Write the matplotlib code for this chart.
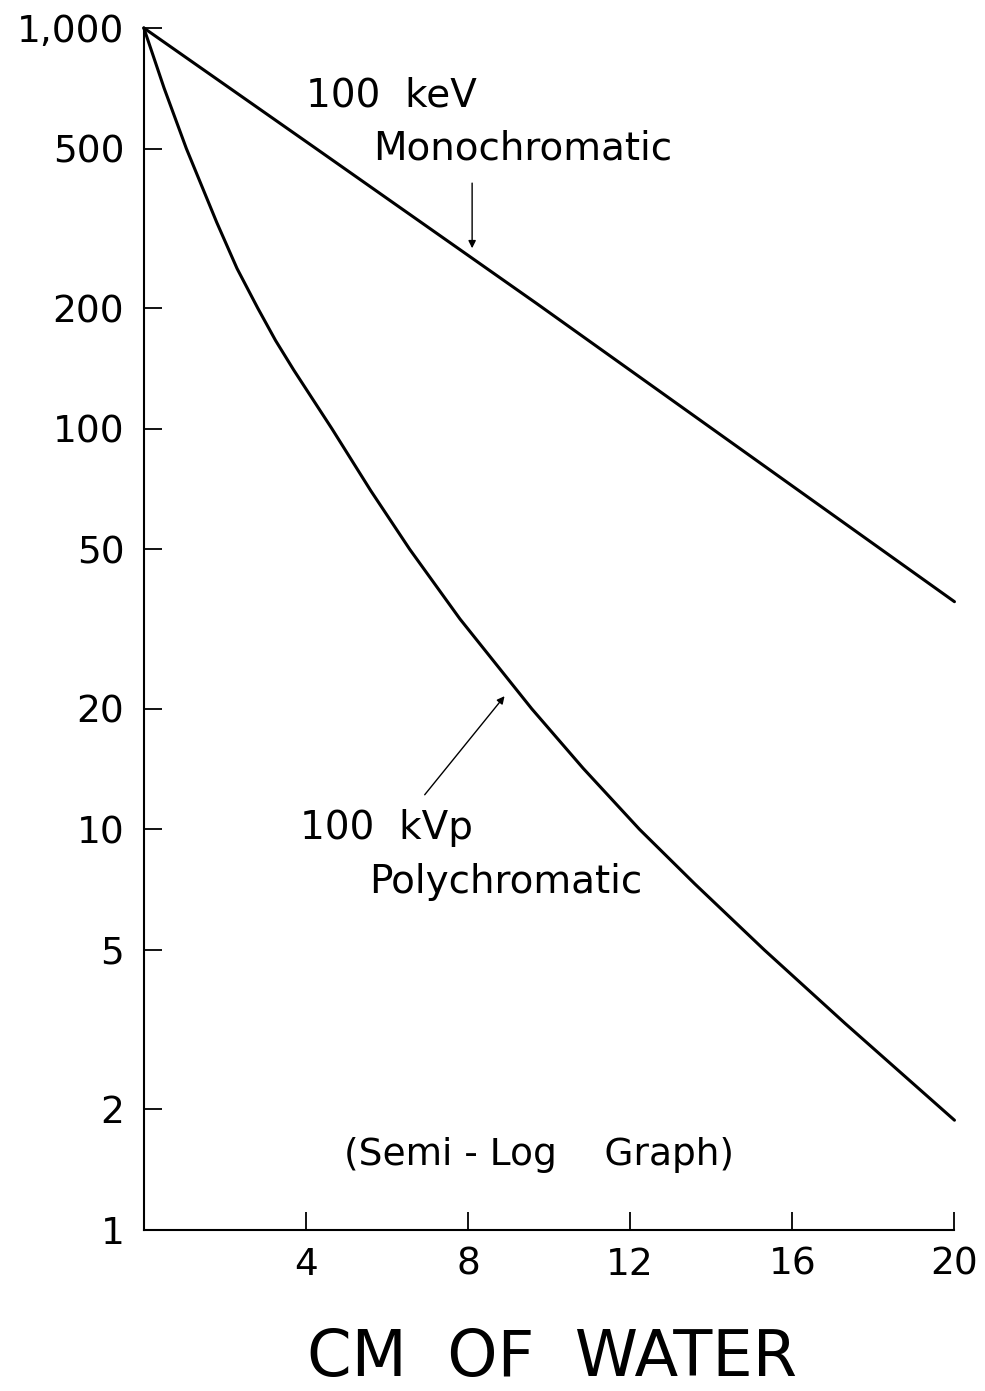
import numpy as np
import matplotlib
matplotlib.use("Agg")
import matplotlib.pyplot as plt
from matplotlib.ticker import FixedLocator, FixedFormatter, NullLocator

# transmitted intensity vs. thickness of water (log scale)
mono_cm = [0, 4.25, 9.7, 20]
mono_int = [1000, 500, 205, 37]

poly_cm = [0, 0.5, 1.05, 1.8, 2.3, 2.81, 3.25, 3.7, 4.64, 5.6, 6.56, 7.8,
           9.57, 10.84, 12.23, 13.6, 15.31, 17.3, 20]
poly_int = [1000, 708, 500, 327, 251, 200, 166, 140, 100, 70, 50, 33.5,
            20, 14.2, 10, 7.3, 5, 3.28, 1.88]

y_ticks = [1, 2, 5, 10, 20, 50, 100, 200, 500, 1000]
y_labels = ["1", "2", "5", "10", "20", "50", "100", "200", "500", "1,000"]
x_ticks = [4, 8, 12, 16, 20]
x_labels = ["4", "8", "12", "16", "20"]

plt.rcParams['font.family'] = ['DejaVu Sans']

fig = plt.figure(figsize=(9.85, 13.91), dpi=100)
ax = fig.add_axes([0.146, 0.1157, 0.823, 0.8642])

ax.set_yscale('log')
ax.set_xlim(0, 20)
ax.set_ylim(1, 1000)

ax.plot(mono_cm, mono_int, color='black', lw=2.2, clip_on=False,
        solid_capstyle='round', solid_joinstyle='round')
ax.plot(poly_cm, poly_int, color='black', lw=2.2, clip_on=False,
        solid_capstyle='round', solid_joinstyle='round')

ax.spines['top'].set_visible(False)
ax.spines['right'].set_visible(False)
ax.spines['left'].set_linewidth(1.5)
ax.spines['bottom'].set_linewidth(1.5)

ax.yaxis.set_major_locator(FixedLocator(y_ticks))
ax.yaxis.set_major_formatter(FixedFormatter(y_labels))
ax.yaxis.set_minor_locator(NullLocator())
ax.set_xticks(x_ticks)
ax.set_xticklabels(x_labels)

ax.tick_params(axis='both', direction='in', length=13, width=1.3,
               labelsize=27, pad=12, colors='black')
ax.tick_params(axis='y', pad=14)

# labels and pointers
ax.text(4.0, 680, "100  keV", fontsize=28, ha='left', va='center')
ax.text(5.65, 500, "Monochromatic", fontsize=28, ha='left', va='center')
ax.annotate("", xy=(8.1, 282), xytext=(8.1, 410),
            arrowprops=dict(arrowstyle='-|>', color='black', lw=1.0,
                            mutation_scale=11, shrinkA=0, shrinkB=0))

ax.text(3.85, 10.1, "100  kVp", fontsize=28, ha='left', va='center')
ax.text(5.55, 7.4, "Polychromatic", fontsize=28, ha='left', va='center')
ax.annotate("", xy=(8.9, 21.5), xytext=(6.93, 12.2),
            arrowprops=dict(arrowstyle='-|>', color='black', lw=1.0,
                            mutation_scale=11, shrinkA=0, shrinkB=0))

ax.text(4.95, 1.54, "(Semi - Log    Graph)", fontsize=27, ha='left', va='center')

fig.text(0.56, 0.011, "CM  OF  WATER", fontsize=46, ha='center', va='baseline')

fig.savefig("out.png", dpi=100)
